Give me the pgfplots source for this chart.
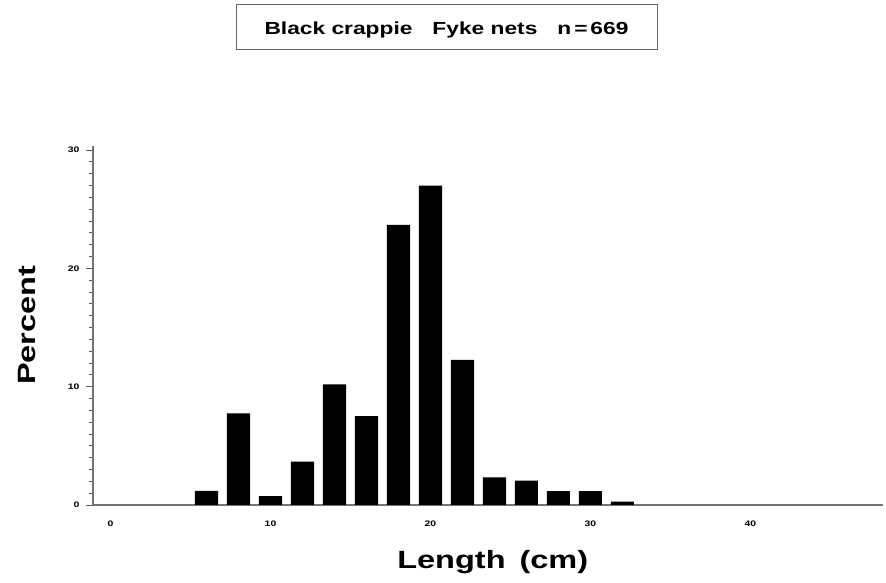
\documentclass[border=0pt]{standalone}
\usepackage{pgfplots}
\pgfplotsset{compat=1.18}
\usepackage{fontspec}
\setmainfont{Liberation Sans}
\newfontfamily\wide{Liberation Sans}[FakeStretch=1.3]

\begin{document}
\begin{tikzpicture}[x=1bp,y=1bp]
  \path[use as bounding box] (0,0) rectangle (886,583);
  % boxed title
  \draw[black!60, line width=1bp] (236,533) rectangle (657,578);
  \node[inner sep=0pt, font=\wide\bfseries\fontsize{17.5bp}{20bp}\selectfont]
    at (446.5,553) {Black crappie\hspace{20bp}Fyke nets\hspace{20bp}n\,=\,669};
  \begin{axis}[
      at={(93bp,78bp)}, anchor=south west,
      scale only axis, width=790bp, height=358.5bp,
      xmin=-1.1, xmax=48.3, ymin=0, ymax=30.3,
      axis x line*=bottom, axis y line*=left,
      axis line style={black!55, line width=1.3bp},
      xtick={0,10,...,40}, ytick={0,10,20,30},
      minor y tick num=9,
      tick align=outside,
      major tick length=7bp, minor tick length=4bp,
      every tick/.style={black!65, line width=0.8bp},
      x tick style={draw=none},
      tick label style={font=\wide\bfseries\fontsize{8bp}{9bp}\selectfont},
      xticklabel style={yshift=-5bp},
      yticklabel style={xshift=-3bp},
      /pgf/number format/assume math mode=true,
      xlabel={Length\hspace{14bp}(cm)},
      ylabel={Percent},
      label style={font=\wide\bfseries\fontsize{25bp}{29bp}\selectfont},
      xlabel style={at={(axis description cs:0.506,-0.16)}, anchor=center},
      ylabel style={at={(axis description cs:-0.0835,0.501)}, anchor=center},
    ]
    \addplot[ybar, fill=black, draw=none, bar width=1.45] coordinates {
      (6,1.20) (8,7.75) (10,0.76) (12,3.66) (14,10.20) (16,7.52) (18,23.67)
      (20,27.00) (22,12.26) (24,2.34) (26,2.06) (28,1.18) (30,1.18) (32,0.28)
    };
  \end{axis}
\end{tikzpicture}
\end{document}
